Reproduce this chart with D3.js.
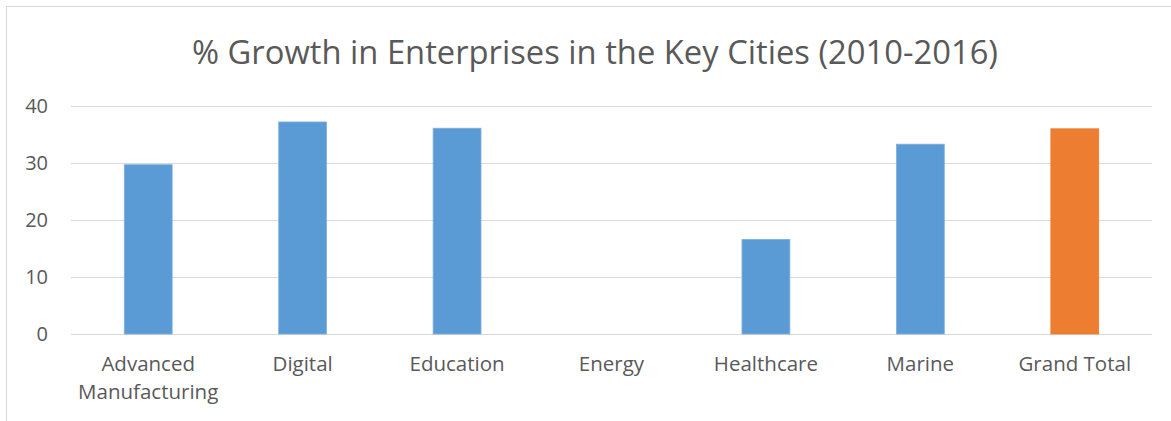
<!DOCTYPE html>
<html>
<head>
<meta charset="utf-8">
<script src="https://cdn.jsdelivr.net/npm/d3@7"></script>
<style>
  html, body { margin: 0; padding: 0; background: #fff; }
  svg { display: block; }
  text { font-family: "Open Sans", "Noto Sans", sans-serif; fill: #595959; }
</style>
</head>
<body>
<svg id="chart" width="1171" height="421"></svg>
<script>
// Sector growth in enterprise counts, 2010-2016
const categories = ["Advanced Manufacturing", "Digital", "Education", "Energy", "Healthcare", "Marine", "Grand Total"];
const growth = [29.7, 37.2, 36.1, 0, 16.6, 33.3, 36.0];
const yTicks = [0, 10, 20, 30, 40];
const title = "% Growth in Enterprises in the Key Cities (2010-2016)";

const svg = d3.select("#chart");
const W = 1171, H = 421;
const plot = { left: 71, right: 1152, top: 106, bottom: 334 };

// chart frame
svg.append("rect")
  .attr("x", 6.5).attr("y", 6.5)
  .attr("width", W).attr("height", H)
  .attr("fill", "#fff").attr("stroke", "#d9d9d9").attr("stroke-width", 1);

svg.append("text")
  .attr("x", 595).attr("y", 64)
  .attr("text-anchor", "middle")
  .attr("font-size", 32.5)
  .attr("textLength", 806)
  .attr("lengthAdjust", "spacingAndGlyphs")
  .text(title);

const x = d3.scaleBand()
  .domain(categories)
  .range([plot.left, plot.right])
  .paddingInner(0.69)
  .paddingOuter(0.345);

const y = d3.scaleLinear().domain([0, 40]).range([plot.bottom, plot.top]);

// horizontal gridlines + y labels
const yAxis = d3.axisLeft(y).tickValues(yTicks)
  .tickSize(-(plot.right - plot.left)).tickPadding(23).tickFormat(d3.format("d"));
const gy = svg.append("g").attr("transform", `translate(${plot.left},0)`).call(yAxis);
gy.select(".domain").remove();
gy.selectAll(".tick line").attr("stroke", "#d9d9d9").attr("stroke-width", 1);
gy.selectAll(".tick text").attr("font-size", 20).attr("fill", "#595959")
  .style("font-family", '"Open Sans", "Noto Sans", sans-serif');

// bars
svg.append("g").selectAll("rect")
  .data(categories.map((c, i) => ({ c, v: growth[i] })))
  .join("rect")
  .attr("x", d => x(d.c))
  .attr("width", x.bandwidth())
  .attr("y", d => y(d.v))
  .attr("height", d => y(0) - y(d.v))
  .attr("fill", d => d.c === "Grand Total" ? "#ed7d31" : "#5b9bd5")
  .attr("stroke", d => d.v > 0 ? (d.c === "Grand Total" ? "#ed7d31" : "#7eb0de") : "none")
  .attr("stroke-width", 0.8);

// category labels (wrapped onto two lines where needed)
const labels = svg.append("g");
categories.forEach(c => {
  const cx = x(c) + x.bandwidth() / 2;
  const words = c === "Advanced Manufacturing" ? ["Advanced", "Manufacturing"] : [c];
  const t = labels.append("text")
    .attr("x", cx).attr("y", 371)
    .attr("text-anchor", "middle")
    .attr("font-size", 20.5);
  words.forEach((w, i) => {
    t.append("tspan").attr("x", cx).attr("dy", i === 0 ? 0 : 28).text(w);
  });
});
</script>
</body>
</html>
